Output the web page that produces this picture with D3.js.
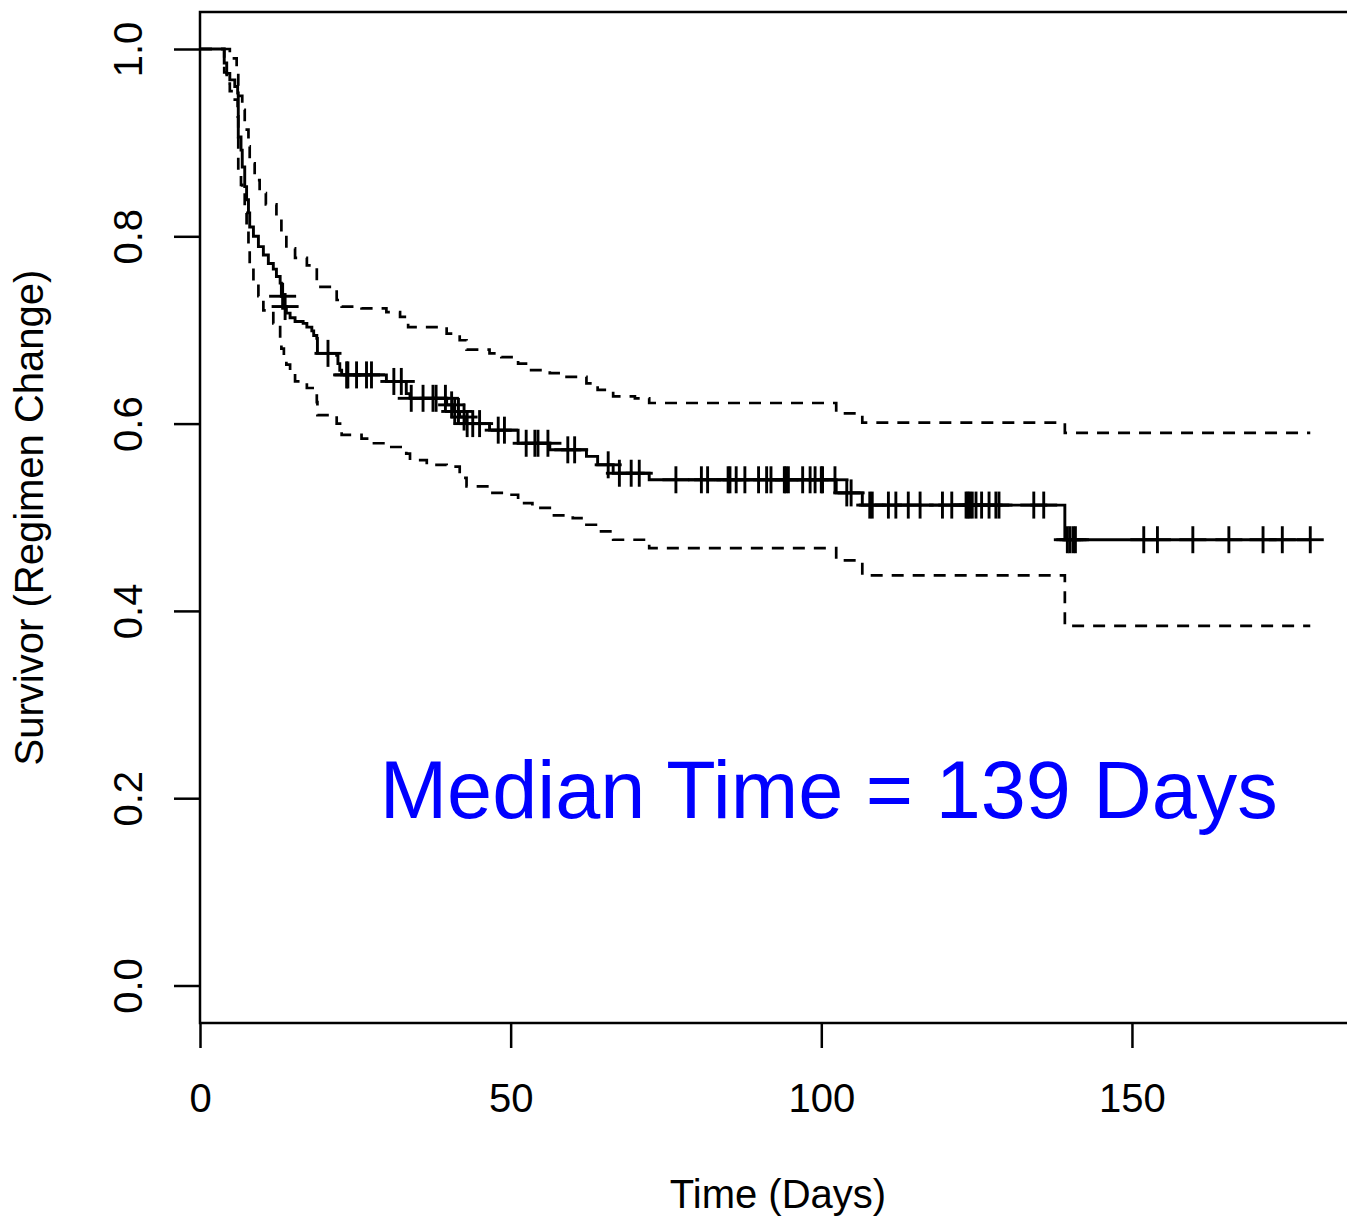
<!DOCTYPE html>
<html>
<head>
<meta charset="utf-8">
<script src="https://cdn.jsdelivr.net/npm/d3@7"></script>
<style>
  body { margin: 0; background: white; }
  svg { display: block; }
</style>
</head>
<body>
<svg id="graficoKM"></svg>
<script>
// Tiempos (dias) donde la curva baja y valor de supervivencia tras cada caida
var tiemposEvento = [3.9, 4.3, 4.8, 5.6, 6.06, 6.16, 6.6, 6.8, 7.2, 7.5, 7.8, 8.0, 8.6, 9.4, 10.2, 11.0, 11.8, 12.3, 12.9, 13.1,
    13.5, 13.9, 14.5, 15.3, 16.6, 17.2, 18.0, 18.3, 18.8, 18.9, 22.0, 22.2, 22.5, 22.8, 30.0, 33.2, 33.8, 39.7, 40.7, 41.8,
    42.9, 46.6, 51.2, 56.3, 62.2, 64.0, 66.5, 72.3, 102.4, 106.6, 139.2];
var supervivencia = [0.985, 0.974, 0.967, 0.960, 0.953, 0.906, 0.892, 0.874, 0.853, 0.839, 0.825, 0.810, 0.800, 0.789, 0.780, 0.771, 0.765, 0.757, 0.750, 0.736,
    0.725, 0.718, 0.713, 0.709, 0.707, 0.703, 0.699, 0.694, 0.691, 0.675, 0.673, 0.664, 0.657, 0.652, 0.645, 0.632, 0.627, 0.620, 0.613, 0.607,
    0.600, 0.593, 0.579, 0.572, 0.565, 0.556, 0.547, 0.540, 0.526, 0.513, 0.476];

// Observaciones censuradas (marcas +)
var tiemposCensura = [13.3, 13.7, 20.6, 23.6, 23.8, 25.2, 26.8, 27.6, 31.2, 32.4, 34.0, 35.9, 37.5, 38.0, 39.5, 40.5, 41.0, 41.6, 42.5, 43.0,
    43.9, 45.0, 48.0, 49.0, 52.5, 53.9, 54.4, 56.0, 59.2, 60.3, 65.7, 67.5, 69.4, 70.7, 76.6, 80.7, 81.7, 85.0, 85.3, 86.3,
    87.7, 89.9, 91.2, 91.9, 94.05, 94.3, 94.7, 97.0, 98.2, 99.0, 100.0, 100.2, 102.2, 104.1, 104.8, 107.8, 108.2, 110.8, 112.0, 114.0,
    115.9, 119.5, 121.0, 123.3, 123.6, 123.9, 124.3, 124.9, 125.8, 127.0, 128.1, 128.6, 134.2, 135.8, 139.6, 140.0, 140.5, 140.9, 151.9, 154.1,
    159.8, 165.6, 171.1, 174.2, 178.7];
var tiempoFinal = 178.7;

// Intervalo de confianza superior
var tiemposSup = [3.9, 4.8, 5.9, 6.16, 6.8, 7.2, 7.8, 8.0, 8.8, 9.6, 10.6, 12.3, 13.1, 13.9, 15.3, 17.2, 18.8, 18.9, 22.0, 22.8,
    26.0, 30.0, 32.2, 33.5, 39.7, 41.8, 42.9, 46.6, 48.5, 51.2, 53.0, 56.3, 58.5, 62.2, 64.0, 66.5, 70.0, 72.3, 102.4, 106.6, 139.2];
var valoresSup = [1.0, 0.990, 0.974, 0.950, 0.935, 0.914, 0.896, 0.878, 0.860, 0.846, 0.834, 0.821, 0.803, 0.787, 0.777, 0.769, 0.753, 0.746, 0.732, 0.725,
    0.723, 0.719, 0.714, 0.703, 0.696, 0.689, 0.679, 0.675, 0.671, 0.664, 0.657, 0.654, 0.650, 0.643, 0.636, 0.629, 0.627, 0.622, 0.611, 0.601, 0.590];

// Intervalo de confianza inferior
var tiemposInf = [3.9, 4.3, 4.8, 5.6, 6.06, 6.16, 6.6, 6.8, 7.2, 7.5, 7.8, 8.0, 8.6, 9.4, 10.2, 11.8, 12.9, 13.1, 13.5, 13.9,
    14.5, 15.3, 17.2, 18.8, 18.9, 22.0, 22.8, 26.0, 28.0, 30.0, 33.2, 33.8, 36.5, 39.7, 41.8, 42.9, 46.6, 49.0, 51.2, 53.5,
    56.3, 60.0, 62.2, 64.0, 66.5, 72.3, 102.4, 106.6, 139.2];
var valoresInf = [0.975, 0.963, 0.955, 0.946, 0.928, 0.867, 0.855, 0.846, 0.825, 0.807, 0.789, 0.768, 0.750, 0.736, 0.721, 0.707, 0.691, 0.680, 0.671, 0.663,
    0.657, 0.645, 0.638, 0.623, 0.609, 0.600, 0.588, 0.584, 0.579, 0.575, 0.568, 0.561, 0.556, 0.554, 0.542, 0.533, 0.526, 0.524, 0.515, 0.510,
    0.502, 0.499, 0.492, 0.485, 0.476, 0.467, 0.454, 0.438, 0.384];

var ticksX = [0, 50, 100, 150];
var ticksY = [0.0, 0.2, 0.4, 0.6, 0.8, 1.0];
var textoMediana = "Median Time = 139 Days";

var anchura = 1347,
    altura = 1218,
    fuente = "'Liberation Sans', Arial, Helvetica, sans-serif";

var izq = 200, arriba = 12, abajo = 1023, der = 1356;

var x = d3.scaleLinear().domain([0, 186]).range([izq, izq + 186 * 6.213]);
var y = d3.scaleLinear().domain([0, 1]).range([985.5, 49]);

var svg = d3.select("#graficoKM")
    .attr("width", anchura)
    .attr("height", altura)
    .style("font-family", fuente);

//Pasar tiempos y valores a puntos de escalera (empieza en 1 en t=0)
function escalera(tiempos, valores) {
    var puntos = [[0, 1]];
    tiempos.forEach(function (t, i) { puntos.push([t, valores[i]]); });
    puntos.push([tiempoFinal, valores[valores.length - 1]]);
    return puntos;
}

//Valor de la curva en un tiempo dado
function valorEn(t) {
    var v = 1;
    tiemposEvento.forEach(function (te, i) { if (te <= t) v = supervivencia[i]; });
    return v;
}

var linea = d3.line()
    .x(function (d) { return x(d[0]); })
    .y(function (d) { return y(d[1]); })
    .curve(d3.curveStepAfter);

//Bandas de confianza discontinuas
[escalera(tiemposSup, valoresSup), escalera(tiemposInf, valoresInf)].forEach(function (banda) {
    svg.append("path")
        .attr("d", linea(banda))
        .attr("fill", "none")
        .attr("stroke", "black")
        .attr("stroke-width", 2.7)
        .attr("stroke-dasharray", "12,9");
});

//Curva de supervivencia
svg.append("path")
    .attr("d", linea(escalera(tiemposEvento, supervivencia)))
    .attr("fill", "none")
    .attr("stroke", "black")
    .attr("stroke-width", 2.9);

//Marcas de censura
var tam = 13.5;
var marcas = svg.append("g")
    .attr("stroke", "black")
    .attr("stroke-width", 2.9);
tiemposCensura.forEach(function (t) {
    var cx = x(t), cy = y(valorEn(t));
    marcas.append("line").attr("x1", cx - tam).attr("x2", cx + tam).attr("y1", cy).attr("y2", cy);
    marcas.append("line").attr("x1", cx).attr("x2", cx).attr("y1", cy - tam).attr("y2", cy + tam);
});

//Caja del grafico
svg.append("rect")
    .attr("x", izq)
    .attr("y", arriba)
    .attr("width", der - izq)
    .attr("height", abajo - arriba)
    .attr("fill", "none")
    .attr("stroke", "black")
    .attr("stroke-width", 2.5);

//Eje X
var ejeX = svg.append("g")
    .attr("transform", "translate(0," + abajo + ")")
    .call(d3.axisBottom(x).tickValues(ticksX).tickSize(25).tickSizeOuter(0).tickFormat(d3.format("d")));
ejeX.select(".domain").remove();
ejeX.selectAll("line").attr("stroke-width", 2.5);
ejeX.selectAll("text")
    .attr("y", 89)
    .attr("dy", 0)
    .style("font-size", "40px")
    .style("font-family", fuente)
    .attr("fill", "black");

//Eje Y
var ejeY = svg.append("g")
    .attr("transform", "translate(" + izq + ",0)")
    .call(d3.axisLeft(y).tickValues(ticksY).tickSize(26).tickSizeOuter(0).tickFormat(d3.format(".1f")));
ejeY.select(".domain").remove();
ejeY.selectAll("line").attr("stroke-width", 2.5);
ejeY.selectAll("text")
    .attr("transform", "rotate(-90)")
    .attr("x", 0)
    .attr("y", -58)
    .attr("dy", 0)
    .attr("text-anchor", "middle")
    .style("font-size", "40px")
    .style("font-family", fuente)
    .attr("fill", "black");

//Titulos de ejes
svg.append("text")
    .attr("x", (izq + der) / 2)
    .attr("y", 1208)
    .attr("text-anchor", "middle")
    .style("font-size", "40px")
    .text("Time (Days)");

svg.append("text")
    .attr("transform", "translate(43," + (arriba + abajo) / 2 + ") rotate(-90)")
    .attr("text-anchor", "middle")
    .style("font-size", "40px")
    .text("Survivor (Regimen Change)");

//Texto de la mediana
svg.append("text")
    .attr("x", x(101.2))
    .attr("y", y(0.179))
    .attr("text-anchor", "middle")
    .attr("fill", "#0000ff")
    .style("font-size", "81px")
    .text(textoMediana);
</script>
</body>
</html>
